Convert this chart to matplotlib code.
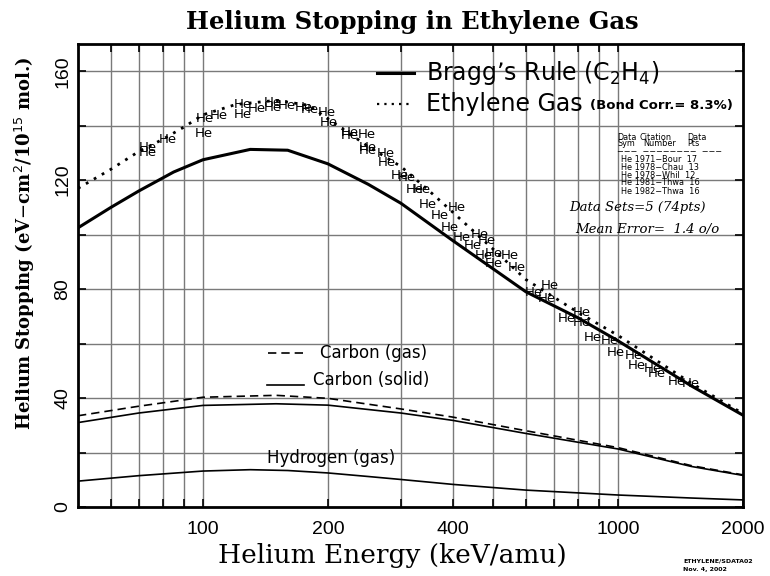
import matplotlib
matplotlib.use('Agg')
import matplotlib.pyplot as plt
from matplotlib.lines import Line2D

# ---------------- data ----------------
energy_bragg = [50, 60, 70, 85, 100, 130, 160, 200, 250, 300, 400, 600, 800, 1000, 1500, 2000]
bragg = [102.5, 110, 116, 123, 127.5, 131.3, 131, 126, 118.5, 111.5, 97.8, 79, 69.5, 61, 44.5, 33.7]

energy_eth = [50, 60, 70, 80, 90, 100, 120, 150, 180, 200, 250, 300, 350, 400, 500, 600, 800, 1000, 1500, 2000]
ethylene = [117, 124, 130.5, 135, 139.5, 144, 147.8, 149.3, 147.5, 142.5, 132.4, 125, 116.2, 108.2, 94.7, 83.5, 71.5, 63, 45.5, 34.3]

energy_c = [50, 70, 100, 150, 200, 300, 400, 600, 1000, 1500, 2000]
carbon_gas = [33.5, 37, 40.3, 41, 39.9, 36, 33, 28, 21.8, 15.2, 11.8]
carbon_solid = [31, 34.5, 37.3, 37.9, 37.4, 34.5, 31.8, 27, 21.3, 14.9, 11.6]

energy_h = [50, 70, 100, 130, 160, 200, 250, 300, 400, 600, 1000, 1500, 2000]
hydrogen = [9.5, 11.5, 13.2, 13.7, 13.4, 12.5, 11.2, 10.1, 8.3, 6.2, 4.4, 3.3, 2.6]

he_energy = [73.8, 73.8, 82.5, 101.2, 100.3, 108.9, 125, 125, 134.6, 147.7, 147.7, 159, 174.5, 181, 198.8, 200.7,
             226, 226, 248, 250, 250, 275, 277, 298.5, 309, 324.5, 336, 348, 408, 372.5, 394, 420, 465, 483,
             501, 549.6, 570, 448, 474, 501,
             685, 626, 673, 817, 753, 817, 871, 957, 990, 1090, 1110, 1214, 1237, 1385, 1500]
he_stop = [132.0, 130.1, 135.1, 142.7, 137.1, 143.6, 147.9, 144.2, 146.4, 148.5, 146.6, 147.3, 146.6, 146.0, 144.8, 141.1,
           137.5, 136.3, 136.8, 132, 130.8, 129.8, 126.5, 121.6, 121, 116.4, 116.4, 111.2, 110, 107, 102.7, 99, 100.2, 97.8,
           92.9, 92.3, 88, 96, 92.3, 89.3,
           81.3, 78.9, 76.4, 71.5, 69.1, 67.9, 62.4, 61.2, 56.9, 55.7, 52, 50.8, 49, 45.9, 45.3]

x_grid = [60, 70, 80, 90, 100, 200, 300, 400, 500, 600, 700, 800, 900, 1000]
x_labels = {100: '100', 200: '200', 400: '400', 1000: '1000', 2000: '2000'}
y_grid = [20, 40, 60, 80, 100, 120, 140, 160]
y_labels = [0, 40, 80, 120, 160]

table_rows = ['He 1971\u2212Bour  17', 'He 1978\u2212Chau  13', 'He 1978\u2212Whil  12',
              'He 1981\u2212Thwa  16', 'He 1982\u2212Thwa  16']

# ---------------- figure ----------------
W, H = 770, 576
fig = plt.figure(figsize=(W / 100, H / 100), dpi=100)
L, R, B, T = 78, 743, 507, 44
ax = fig.add_axes([L / W, 1 - B / H, (R - L) / W, (B - T) / H])

def fx(px):
    return px / W

def fy(py):
    return 1 - py / H

ax.set_xscale('log')
ax.set_xlim(50, 2000)
ax.set_ylim(0, 170)

for xv in x_grid:
    ax.axvline(xv, color='#7a7a7a', lw=1.0, zorder=1)
for yv in y_grid:
    ax.axhline(yv, color='#7a7a7a', lw=1.0, zorder=1)

ax.plot(energy_bragg, bragg, color='black', lw=2.2, zorder=3)
ax.plot(energy_eth, ethylene, color='black', lw=2.0, linestyle=(0, (1, 2.3)), zorder=3)
ax.plot(energy_c, carbon_gas, color='black', lw=1.2, linestyle=(0, (5, 3)), zorder=3)
ax.plot(energy_c, carbon_solid, color='black', lw=1.2, zorder=3)
ax.plot(energy_h, hydrogen, color='black', lw=1.2, zorder=3)

for e, s in zip(he_energy, he_stop):
    ax.text(e, s, 'He', fontsize=9.5, ha='center', va='center', color='black',
            family='DejaVu Sans', zorder=4)

# ticks
ax.xaxis.set_major_locator(matplotlib.ticker.FixedLocator(x_grid + [2000]))
ax.xaxis.set_minor_locator(matplotlib.ticker.NullLocator())
ax.set_xticklabels([x_labels.get(v, '') for v in x_grid + [2000]])
ax.yaxis.set_major_locator(matplotlib.ticker.FixedLocator([0] + y_grid))
ax.set_yticklabels([str(v) if v in y_labels else '' for v in [0] + y_grid])
ax.tick_params(axis='both', which='both', direction='in', length=6, width=1.2,
               top=True, right=True, labelsize=14)
ax.tick_params(axis='x', pad=10)
ax.tick_params(axis='y', pad=5)
for lab in ax.get_yticklabels():
    lab.set_rotation(90)
    lab.set_va('center')
for lab in ax.get_xticklabels() + ax.get_yticklabels():
    lab.set_family('Liberation Sans')
for sp in ax.spines.values():
    sp.set_linewidth(2.0)
    sp.set_zorder(5)

# titles
fig.text(fx(412), fy(22), 'Helium Stopping in Ethylene Gas', ha='center', va='center',
         fontsize=17.5, family='DejaVu Serif', fontweight='bold')
fig.text(fx(392), fy(555), 'Helium Energy (keV/amu)', ha='center', va='center',
         fontsize=19, family='DejaVu Serif')
fig.text(fx(25), fy(243), r'Helium Stopping (eV$-$cm$^2$/10$^{15}$ mol.)', ha='center', va='center',
         rotation=90, fontsize=13, family='DejaVu Serif', fontweight='bold')

# main legend
fig.add_artist(Line2D([fx(377), fx(414)], [fy(73), fy(73)], color='black', lw=2.2))
fig.text(fx(426), fy(73), r'Bragg$\mathsf{’}$s Rule (C$_2$H$_4$)', ha='left', va='center', fontsize=17,
         family='DejaVu Sans')
fig.add_artist(Line2D([fx(377), fx(412)], [fy(104), fy(104)], color='black', lw=1.6,
                      linestyle=(0, (1, 2.3))))
fig.text(fx(426), fy(104), 'Ethylene Gas', ha='left', va='center', fontsize=17, family='DejaVu Sans')
fig.text(fx(590), fy(106), '(Bond Corr.= 8.3%)', ha='left', va='center', fontsize=9.5,
         family='DejaVu Sans', fontweight='bold')

# data table
tfs = 5.9
fig.text(fx(617), fy(137), 'Data', fontsize=tfs, ha='left', va='center')
fig.text(fx(617), fy(144), 'Sym', fontsize=tfs, ha='left', va='center')
fig.text(fx(640), fy(137), 'Citation', fontsize=tfs, ha='left', va='center')
fig.text(fx(643), fy(144), 'Number', fontsize=tfs, ha='left', va='center')
fig.text(fx(687), fy(137), 'Data', fontsize=tfs, ha='left', va='center')
fig.text(fx(687), fy(144), 'Pts', fontsize=tfs, ha='left', va='center')
fig.text(fx(617), fy(151), '\u2212\u2212\u2212  \u2212\u2212\u2212\u2212\u2212\u2212\u2212\u2212  \u2212\u2212\u2212', fontsize=tfs, ha='left', va='center')
for i, row in enumerate(table_rows):
    fig.text(fx(621), fy(159 + 8 * i), row, fontsize=tfs, ha='left', va='center')

fig.text(fx(706), fy(208), 'Data Sets=5 (74pts)', ha='right', va='center', fontsize=9.5,
         family='DejaVu Serif', style='italic')
fig.text(fx(719), fy(229), 'Mean Error=  1.4 o/o', ha='right', va='center', fontsize=9.5,
         family='DejaVu Serif', style='italic')

# element legend
fig.add_artist(Line2D([fx(268), fx(303)], [fy(353), fy(353)], color='black', lw=1.2,
                      linestyle=(0, (5, 3))))
fig.text(fx(320), fy(353), 'Carbon (gas)', ha='left', va='center', fontsize=12, family='DejaVu Sans')
fig.add_artist(Line2D([fx(267), fx(304)], [fy(385), fy(385)], color='black', lw=1.2))
fig.text(fx(313), fy(380), 'Carbon (solid)', ha='left', va='center', fontsize=12, family='DejaVu Sans')
fig.text(fx(267), fy(458), 'Hydrogen (gas)', ha='left', va='center', fontsize=12, family='DejaVu Sans')

# footer
fig.text(fx(683), fy(561), 'ETHYLENE/SDATA02', fontsize=4.5, fontweight='bold', ha='left', va='center')
fig.text(fx(683), fy(569), 'Nov. 4, 2002', fontsize=4.5, fontweight='bold', ha='left', va='center')

fig.savefig('out.png', dpi=100)
